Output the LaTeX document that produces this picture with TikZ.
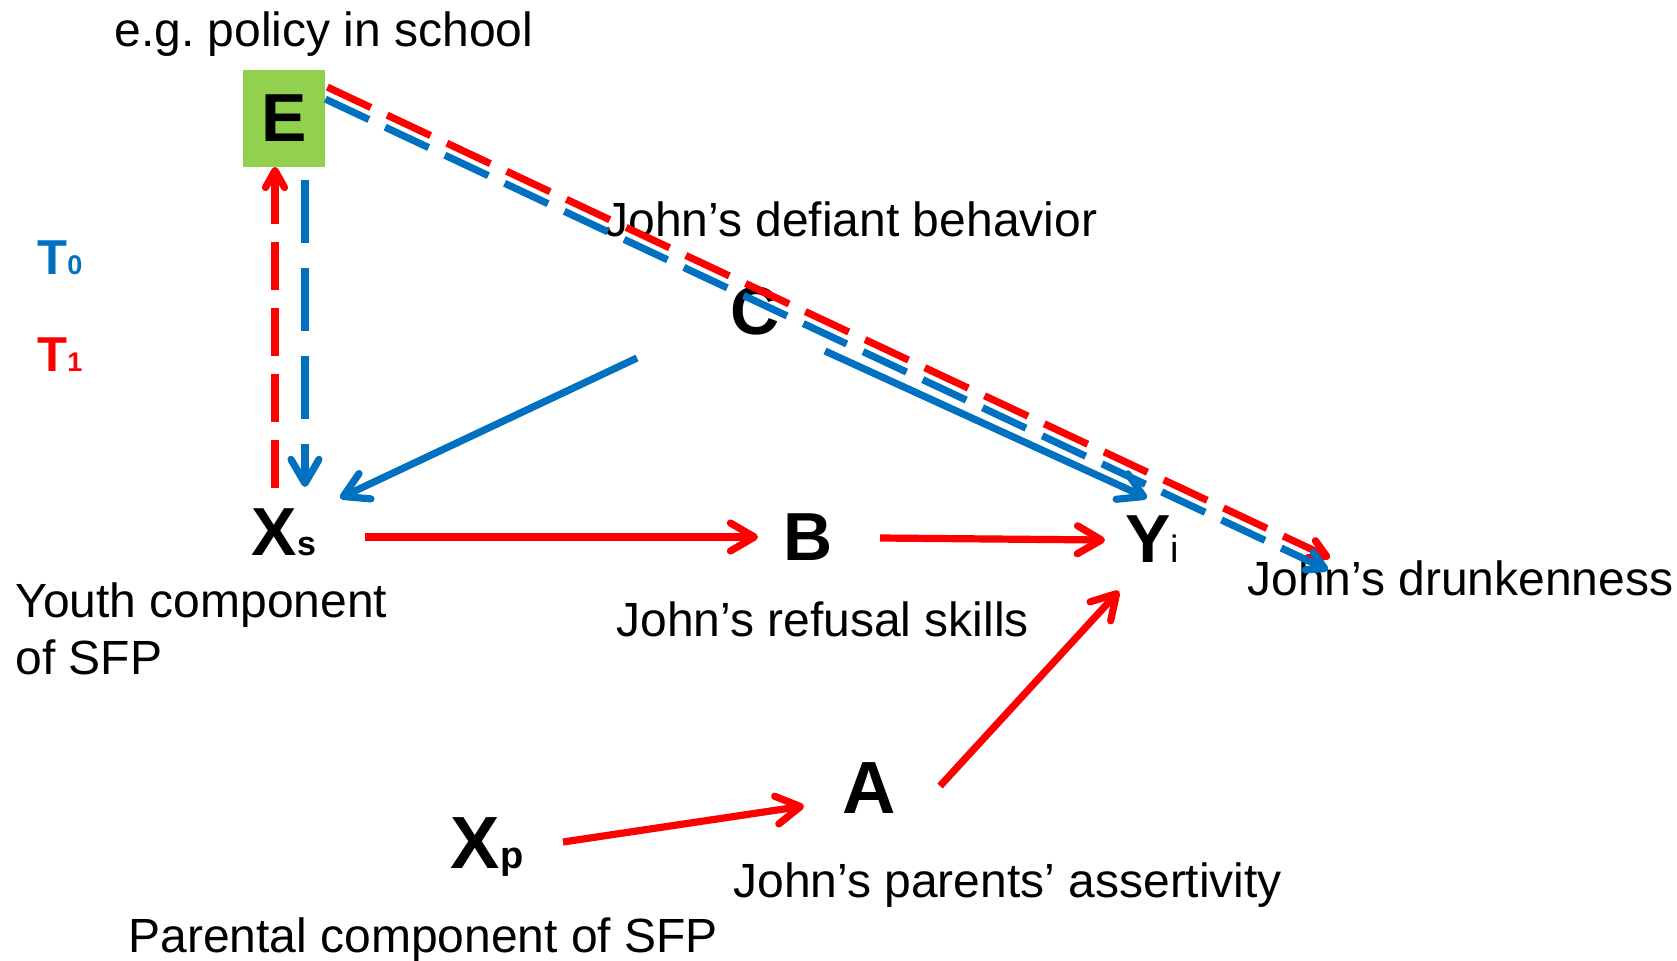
\documentclass[tikz,border=0pt]{standalone}
\usepackage{fontspec}
\setmainfont{Liberation Sans}
\usetikzlibrary{arrows.meta}

\definecolor{pptred}{HTML}{FF0000}
\definecolor{pptblue}{HTML}{0070C0}
\definecolor{pptgreen}{HTML}{92D050}
\newcommand{\fs}[1]{\fontsize{#1}{#1}\selectfont}
\frenchspacing

\begin{document}
\begin{tikzpicture}[x=0.5pt, y=-0.5pt,
  var/.style={font=\bfseries\fs{34}, inner sep=0pt, anchor=base},
  lbl/.style={font=\fs{24}, inner sep=0pt, anchor=base west},
  link/.style={line width=3.6pt, -{Straight Barb[round, length=12pt, width=14pt]}},
  thinlink/.style={line width=3.6pt, -{Straight Barb[round, length=8.5pt, width=9.5pt]}},
  t1dash/.style={dash pattern=on 24pt off 9pt},
  t0dash/.style={dash pattern=on 31.5pt off 12.5pt}]
\useasboundingbox (0,0) rectangle (1677,960);

% variables
\node[fill=pptgreen, minimum width=41pt, minimum height=48.5pt, inner sep=0pt,
  font=\bfseries\fs{34}] (E) at (284,118) {E};
\node[var] (C) at (755,334) {C};
\node[var] (Xs) at (284,555) {X\fs{17}s};
\node[var] (B) at (808,560) {B};
\node[var] (Yi) at (1152,562) {Y{\mdseries\fs{19}i}};
\node[var, font=\bfseries\fs{37}] (A) at (869,813) {A};
\node[var, font=\bfseries\fs{37}] (Xp) at (487,868) {X\fs{19}p};

% labels
\node[lbl] (policy) at (114,46) {e.g. policy in school};
\node[lbl] (defiant) at (604,236) {John’s defiant behavior};
\node[lbl] (youth) at (15,617) {Youth component};
\node[lbl] (youthb) at (15,674) {of SFP};
\node[lbl] (refusal) at (616,636) {John’s refusal skills};
\node[lbl] (drunk) at (1247,595) {John’s drunkenness};
\node[lbl] (assert) at (733,897) {John’s parents’ assertivity};
\node[lbl] (parental) at (128,952) {Parental component of SFP};
\node[lbl, font=\bfseries\fs{24.5}, text=pptblue] (T0) at (37,274) {T\fs{13.5}0};
\node[lbl, font=\bfseries\fs{24.5}, text=pptred] (T1) at (37,371) {T\fs{13.5}1};

% paths
\draw[link, pptred] ([shift={(81,-18)}]Xs.base) -- ([shift={(-50,-23)}]B.base);
\draw[link, pptred] ([shift={(72,-22)}]B.base) -- ([shift={(-47,-22)}]Yi.base);
\draw[link, pptred] ([shift={(76,-26)}]Xp.base) -- ([shift={(-65,-7)}]A.base);
\draw[link, pptred] ([shift={(71,-27)}]A.base) -- ([shift={(-33,29)}]Yi.base);
\draw[link, pptblue] ([shift={(-118,24)}]C.base) -- ([shift={(56,-57)}]Xs.base);
\draw[link, pptblue] ([shift={(70,17)}]C.base) -- ([shift={(-5,-64)}]Yi.base);

% feedback between E and Xs
\draw[thinlink, t1dash, pptred] ([shift={(-9,-67)}]Xs.base) -- ([shift={(-9,0)}]E.south);
\draw[link, t0dash, pptblue] ([shift={(21,13)}]E.south) -- ([shift={(21,-68)}]Xs.base);

% E on drunkenness
\draw[thinlink, t1dash, pptred] ([shift={(2,18)}]E.north east) -- ([shift={(83,-37)}]drunk.base west);
\draw[thinlink, t1dash, pptblue] ([shift={(0,30)}]E.north east) -- ([shift={(81,-25)}]drunk.base west);
\end{tikzpicture}
\end{document}
